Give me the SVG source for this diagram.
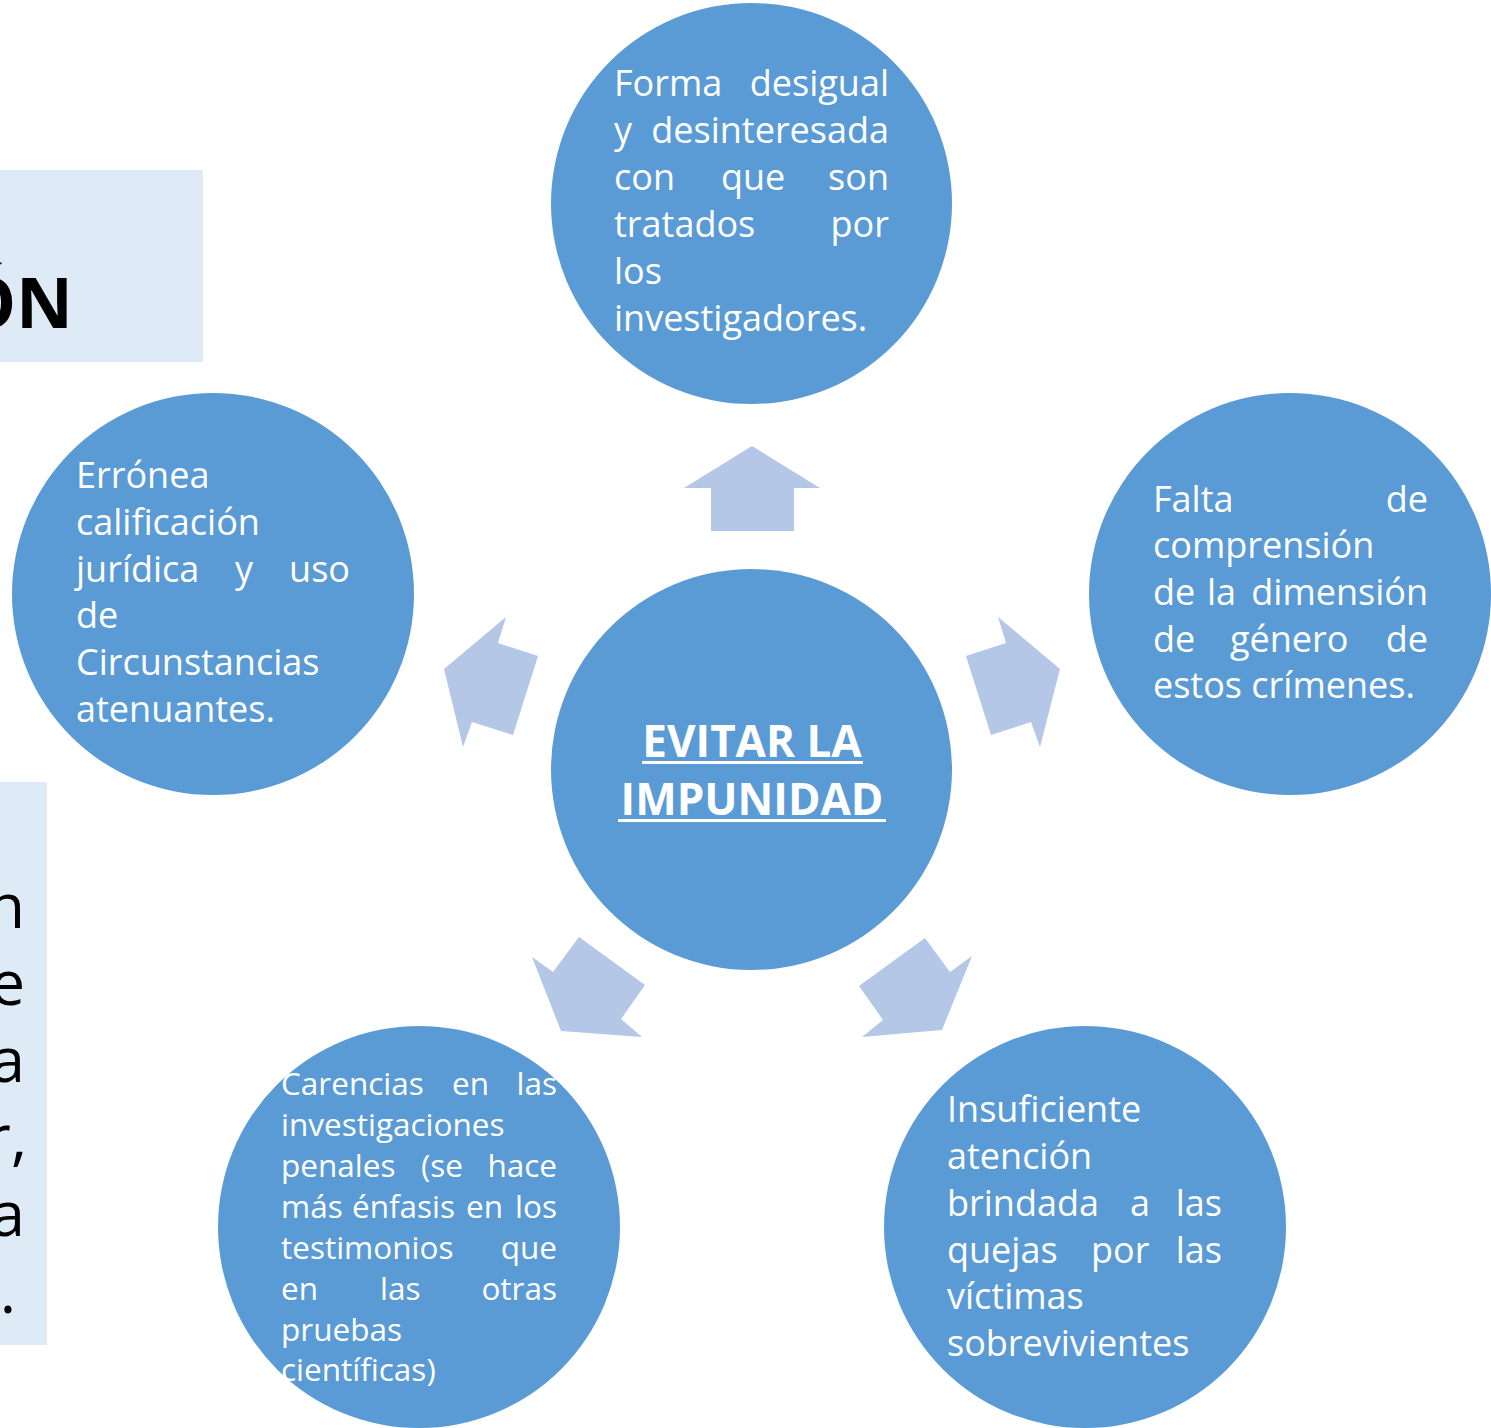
<svg xmlns="http://www.w3.org/2000/svg" width="1491" height="1428" viewBox="0 0 1491 1428">
<style>
.panel{fill:#DEEAF6}
.circ{fill:#5B9BD5}
.arr{fill:#B4C7E7}
.t{font-family:"Open Sans","DejaVu Sans",sans-serif;fill:#FFFFFF;font-size:36px}
.ts{font-family:"Open Sans","DejaVu Sans",sans-serif;fill:#FFFFFF;font-size:31.5px}
.e{text-anchor:end}
.c{font-family:"Open Sans","DejaVu Sans",sans-serif;fill:#FFFFFF;font-size:44px;font-weight:bold;text-anchor:middle}
.big{font-family:"Open Sans","DejaVu Sans",sans-serif;fill:#000000;font-weight:bold;font-size:70px;text-anchor:end}
.side{font-family:"Open Sans","DejaVu Sans",sans-serif;fill:#000000;font-size:62px;text-anchor:end}
</style>
<rect width="1491" height="1428" fill="#FFFFFF"/>
<g id="panel-top">
<rect class="panel" x="0" y="170" width="203" height="192"/>
<text class="big" x="73" y="328">ÓN</text>
</g>
<g id="panel-bottom">
<rect class="panel" x="0" y="782" width="47" height="563"/>
<text class="side" x="25" y="928">n</text>
<text class="side" x="25" y="1005">e</text>
<text class="side" x="25" y="1082">a</text>
<text class="side" x="27" y="1159">r,</text>
<text class="side" x="25" y="1236">a</text>
<text class="side" x="16" y="1313">.</text>
</g>
<g id="connectors">
<polygon class="arr" points="752,446 820,488 794,488 794,531 711,531 711,488 684,488"/>
<polygon class="arr" points="444,669 506,617 498,643 538,656 513,735 472,722 463,747"/>
<polygon class="arr" points="1060,669 998,617 1006,643 966,656 991,735 1031,722 1040,747"/>
<polygon class="arr" points="579,937 645,985 621,1019 642,1037 561,1031 532,957 553,972"/>
<polygon class="arr" points="925,938 950,972 972,956 942,1030 862,1037 883,1020 859,986"/>
</g>
<g id="node-center">
<circle class="circ" cx="751.5" cy="769.5" r="200.5"/>
<text class="c" x="752" y="757">EVITAR LA</text>
<rect x="642" y="761" width="221" height="3" fill="#FFFFFF"/>
<text class="c" x="752" y="815">IMPUNIDAD</text>
<rect x="618" y="819" width="268" height="3" fill="#FFFFFF"/>
</g>
<g id="node-top">
<circle class="circ" cx="751.5" cy="203.5" r="200.5"/>
<text class="t" x="614" y="96">Forma</text>
<text class="t e" x="889" y="96">desigual</text>
<text class="t" x="614" y="143">y</text>
<text class="t e" x="889" y="143">desinteresada</text>
<text class="t" x="614" y="190">con</text>
<text class="t" x="721" y="190">que</text>
<text class="t e" x="889" y="190">son</text>
<text class="t" x="614" y="237">tratados</text>
<text class="t e" x="889" y="237">por</text>
<text class="t" x="614" y="284">los</text>
<text class="t" x="614" y="331">investigadores.</text>
</g>
<g id="node-left">
<circle class="circ" cx="213" cy="594" r="201"/>
<text class="t" x="76" y="488">Errónea</text>
<text class="t" x="76" y="535">calificación</text>
<text class="t" x="76" y="582">jurídica</text>
<text class="t" x="235" y="582">y</text>
<text class="t e" x="350" y="582">uso</text>
<text class="t" x="76" y="628">de</text>
<text class="t" x="76" y="675">Circunstancias</text>
<text class="t" x="76" y="722">atenuantes.</text>
</g>
<g id="node-right">
<circle class="circ" cx="1290" cy="594" r="201"/>
<text class="t" x="1153" y="512">Falta</text>
<text class="t e" x="1428" y="512">de</text>
<text class="t" x="1153" y="558">comprensión</text>
<text class="t" x="1153" y="605">de</text>
<text class="t" x="1207" y="605">la</text>
<text class="t e" x="1428" y="605">dimensión</text>
<text class="t" x="1153" y="652">de</text>
<text class="t" x="1230" y="652">género</text>
<text class="t e" x="1428" y="652">de</text>
<text class="t" x="1153" y="698">estos crímenes.</text>
</g>
<g id="node-bottom-left">
<circle class="circ" cx="419" cy="1227" r="201"/>
<text class="ts" x="281" y="1095">Carencias</text>
<text class="ts" x="452" y="1095">en</text>
<text class="ts e" x="557" y="1095">las</text>
<text class="ts" x="281" y="1136">investigaciones</text>
<text class="ts" x="281" y="1177">penales</text>
<text class="ts" x="421" y="1177">(se</text>
<text class="ts e" x="557" y="1177">hace</text>
<text class="ts" x="281" y="1218">más</text>
<text class="ts" x="352" y="1218">énfasis</text>
<text class="ts" x="466" y="1218">en</text>
<text class="ts e" x="557" y="1218">los</text>
<text class="ts" x="281" y="1259">testimonios</text>
<text class="ts e" x="557" y="1259">que</text>
<text class="ts" x="281" y="1300">en</text>
<text class="ts" x="380" y="1300">las</text>
<text class="ts e" x="557" y="1300">otras</text>
<text class="ts" x="281" y="1341">pruebas</text>
<text class="ts" x="281" y="1381">científicas)</text>
</g>
<g id="node-bottom-right">
<circle class="circ" cx="1085" cy="1227" r="201"/>
<text class="t" x="947" y="1122">Insuficiente</text>
<text class="t" x="947" y="1169">atención</text>
<text class="t" x="947" y="1216">brindada</text>
<text class="t" x="1130" y="1216">a</text>
<text class="t e" x="1222" y="1216">las</text>
<text class="t" x="947" y="1263">quejas</text>
<text class="t" x="1091" y="1263">por</text>
<text class="t e" x="1222" y="1263">las</text>
<text class="t" x="947" y="1309">víctimas</text>
<text class="t" x="947" y="1356">sobrevivientes</text>
</g>
</svg>
